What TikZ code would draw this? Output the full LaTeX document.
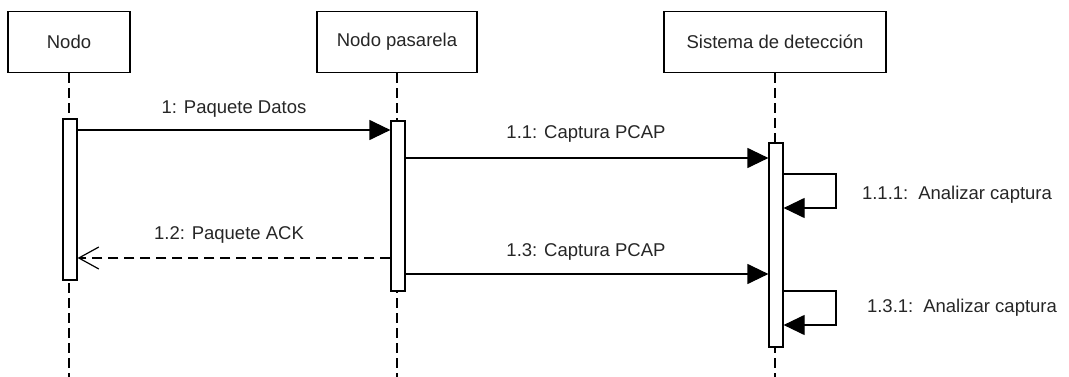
\documentclass[tikz,border=0pt]{standalone}
\usepackage{fontspec}
\setmainfont{Liberation Sans}
\usetikzlibrary{arrows.meta}
\begin{document}
\begin{tikzpicture}[x=1pt,y=-1pt,
  txt/.style={font=\fontsize{18.5}{22}\selectfont, text=black!85},
  actor/.style={draw, line width=1.2pt, fill=white, minimum height=61pt, inner sep=0pt, txt},
  activation/.style={draw, line width=1.2pt, fill=white, minimum width=14pt, inner sep=0pt},
  lifeline/.style={line width=1.2pt, dash pattern=on 10pt off 5pt},
  sync/.style={line width=1.2pt, -{Triangle[length=21pt,width=20pt]}},
  reply/.style={line width=1.2pt, dash pattern=on 10pt off 6pt, -{Straight Barb[length=20pt,width=22pt,line width=1.2pt]}},
  lbl/.style={txt, inner sep=0pt}
]
\useasboundingbox (0,0) rectangle (1069,377);

% participants
\node[actor, minimum width=122pt] (nodo) at (69,42) {Nodo};
\node[actor, minimum width=160pt] (gw) at (397,42) {Nodo pasarela};
\node[actor, minimum width=222pt] (ids) at (775,42) {Sistema de detección};

% lifeline ends
\coordinate (endA) at (69,377);
\coordinate (endB) at (397,377);
\coordinate (endC) at (775,377);
\draw[lifeline] (nodo.south) -- (endA);
\draw[lifeline] (gw.south) -- (endB);
\draw[lifeline] (ids.south) -- (endC);

% activation bars
\node[activation, minimum height=161pt] (actA) at (70,199.5) {};
\node[activation, minimum height=170pt] (actB) at (398,206) {};
\node[activation, minimum height=204pt] (actC) at (776,245) {};

% message levels
\coordinate (y1) at (0,130);
\coordinate (y11) at (0,158);
\coordinate (y111a) at (836,174);
\coordinate (y111b) at (836,208);
\coordinate (y12) at (0,258);
\coordinate (y13) at (0,274);
\coordinate (y131a) at (836,291);
\coordinate (y131b) at (836,325);

% messages
\draw[sync] (actA.east |- y1) -- (actB.west |- y1);
\node[lbl] (l1) at (234,109) {1: Paquete Datos};

\draw[sync] (actB.east |- y11) -- (actC.west |- y11);
\node[lbl] (l11) at (586,134) {1.1: Captura PCAP};

\draw[sync] (actC.east |- y111a) -- (y111a) -- (y111b) -- (actC.east |- y111b);
\node[lbl] (l111) at (957,195) {1.1.1:\, Analizar captura};

\draw[reply] (actB.west |- y12) -- (actA.east |- y12);
\node[lbl] (l12) at (229,235) {1.2: Paquete ACK};

\draw[sync] (actB.east |- y13) -- (actC.west |- y13);
\node[lbl] (l13) at (586,252) {1.3: Captura PCAP};

\draw[sync] (actC.east |- y131a) -- (y131a) -- (y131b) -- (actC.east |- y131b);
\node[lbl] (l131) at (962,308) {1.3.1:\, Analizar captura};
\end{tikzpicture}
\end{document}
